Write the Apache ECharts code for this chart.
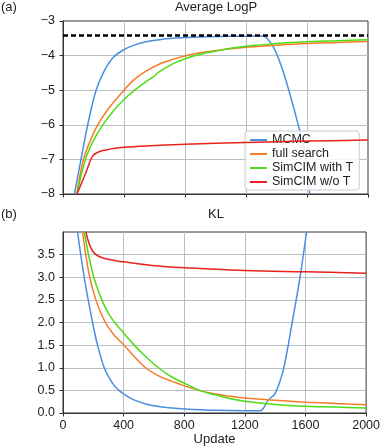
<!DOCTYPE html>
<html>
<head>
<meta charset="utf-8">
<script src="https://cdn.jsdelivr.net/npm/echarts@6/dist/echarts.min.js"></script>
<style>
  html, body { margin: 0; padding: 0; background: #fff; }
  #chart { width: 383px; height: 448px; }
</style>
</head>
<body>
<div id="chart"></div>
<script>
// series names and colours
const names = ['MCMC', 'full search', 'SimCIM with T', 'SimCIM w/o T']
const colors = ['#4a8fde', '#f77b2a', '#4ddd17', '#e8221c']

// (a) Average LogP, [update, value]
const optimum = -3.41
const mcmcLogP = [[75, -8], [118, -7], [162, -6], [217, -5], [270, -4.45], [330, -4.05], [400, -3.83], [470, -3.69], [545, -3.6], [630, -3.54], [720, -3.5], [900, -3.46], [1100, -3.44], [1300, -3.43], [1330, -3.47], [1379, -3.75], [1432, -4.31], [1486, -5.08], [1541, -5.98], [1585, -6.79], [1618, -8]]
const fullSearchLogP = [[90, -8], [134, -7], [180, -6.45], [228, -6], [300, -5.52], [400, -5], [470, -4.68], [545, -4.45], [630, -4.25], [720, -4.11], [800, -4.01], [900, -3.92], [1006, -3.85], [1100, -3.8], [1200, -3.76], [1400, -3.7], [1600, -3.65], [1800, -3.62], [2000, -3.59]]
const simcimTLogP = [[92, -8], [147, -7], [200, -6.45], [261, -6], [330, -5.6], [400, -5.27], [470, -5.0], [545, -4.75], [590, -4.62], [630, -4.47], [720, -4.24], [800, -4.09], [900, -3.96], [1006, -3.87], [1100, -3.79], [1200, -3.73], [1300, -3.69], [1400, -3.65], [1600, -3.6], [1800, -3.57], [2000, -3.54]]
const simcimNoTLogP = [[92, -8], [151, -7.37], [195, -6.9], [240, -6.77], [300, -6.71], [400, -6.65], [600, -6.6], [800, -6.56], [1200, -6.51], [1600, -6.47], [2000, -6.44]]

// (b) KL, [update, value]
const mcmcKL = [[96, 4], [140, 3], [195, 2], [228, 1.5], [272, 1], [306, 0.77], [340, 0.6], [370, 0.5], [400, 0.42], [460, 0.3], [545, 0.2], [640, 0.14], [720, 0.11], [800, 0.09], [1000, 0.06], [1200, 0.05], [1300, 0.05], [1355, 0.29], [1399, 0.43], [1454, 0.96], [1508, 1.92], [1563, 2.98], [1607, 4]]
const fullSearchKL = [[129, 4], [173, 3.05], [217, 2.5], [272, 2.05], [330, 1.75], [400, 1.51], [470, 1.25], [545, 1.0], [630, 0.82], [720, 0.7], [800, 0.6], [900, 0.5], [1006, 0.42], [1100, 0.37], [1200, 0.33], [1400, 0.28], [1600, 0.24], [1800, 0.21], [2000, 0.18]]
const simcimTKL = [[140, 4], [195, 3.1], [250, 2.55], [300, 2.2], [350, 1.96], [400, 1.77], [470, 1.5], [545, 1.25], [630, 1.0], [720, 0.79], [800, 0.66], [900, 0.5], [1006, 0.4], [1100, 0.32], [1200, 0.26], [1400, 0.19], [1600, 0.15], [1800, 0.13], [2000, 0.11]]
const simcimNoTKL = [[151, 4], [195, 3.58], [260, 3.43], [400, 3.34], [590, 3.26], [800, 3.21], [1200, 3.15], [1600, 3.12], [2000, 3.09]]

const logPData = [mcmcLogP, fullSearchLogP, simcimTLogP, simcimNoTLogP]
const klData = [mcmcKL, fullSearchKL, simcimTKL, simcimNoTKL]

const font = 'Liberation Sans'
const txt = '#222'

function xAxis (gridIndex, showLabels) {
  return {
    type: 'value',
    gridIndex: gridIndex,
    min: 0,
    max: 2000,
    interval: 400,
    axisLine: { show: true, lineStyle: { color: '#333', width: 1 } },
    axisTick: { show: true, length: 3.5, lineStyle: { color: '#333' } },
    axisLabel: { show: showLabels, color: txt, fontFamily: font, fontSize: 12.5, margin: 6, formatter: v => String(v) },
    splitLine: { show: true, showMinLine: false, showMaxLine: false, lineStyle: { color: '#b8bfc0', width: 1 } }
  }
}

function yAxis (gridIndex, min, max, interval, fmt) {
  return {
    type: 'value',
    gridIndex: gridIndex,
    min: min,
    max: max,
    interval: interval,
    axisLine: { show: true, lineStyle: { color: '#333', width: 1 } },
    axisTick: { show: true, length: 3.5, lineStyle: { color: '#333' } },
    axisLabel: { color: txt, fontFamily: font, fontSize: 12.5, margin: 8, formatter: fmt, showMaxLabel: gridIndex === 0 },
    splitLine: { show: true, showMinLine: false, showMaxLine: false, lineStyle: { color: '#b8bfc0', width: 1 } }
  }
}

const series = []
names.forEach((n, i) => {
  const s = {
    name: n,
    type: 'line',
    xAxisIndex: 0,
    yAxisIndex: 0,
    data: logPData[i],
    smooth: 0.35,
    symbol: 'none',
    color: colors[i],
    lineStyle: { width: 1.5 },
    z: 3 + i
  }
  if (i === 0) {
    s.markLine = {
      silent: true,
      symbol: 'none',
      label: { show: false },
      lineStyle: { color: '#000', type: [5, 3], width: 2.5 },
      data: [{ yAxis: optimum }]
    }
  }
  series.push(s)
  series.push({
    name: n,
    type: 'line',
    xAxisIndex: 1,
    yAxisIndex: 1,
    data: klData[i],
    smooth: 0.35,
    symbol: 'none',
    color: colors[i],
    lineStyle: { width: 1.5 },
    z: 3 + i
  })
})

const chart = echarts.init(document.getElementById('chart'), null, { renderer: 'canvas' })
chart.setOption({
  animation: false,
  backgroundColor: '#fff',
  textStyle: { fontFamily: font },
  title: [
    { text: '(a)', left: 1, top: 1, padding: 0, textStyle: { fontFamily: font, fontSize: 13, fontWeight: 'normal', color: txt } },
    { text: 'Average LogP', left: 216, top: 1, padding: 0, textAlign: 'center', textStyle: { fontFamily: font, fontSize: 13, fontWeight: 'normal', color: txt } },
    { text: '(b)', left: 1, top: 208, padding: 0, textStyle: { fontFamily: font, fontSize: 13, fontWeight: 'normal', color: txt } },
    { text: 'KL', left: 216, top: 208, padding: 0, textAlign: 'center', textStyle: { fontFamily: font, fontSize: 13, fontWeight: 'normal', color: txt } }
  ],
  legend: {
    data: names,
    orient: 'vertical',
    left: 245,
    top: 131,
    padding: [2, 6, 1, 5],
    itemGap: 0,
    itemWidth: 17,
    itemHeight: 2,
    icon: 'rect',
    backgroundColor: 'rgba(255,255,255,0.85)',
    borderColor: '#ccc',
    borderWidth: 1,
    borderRadius: 3,
    textStyle: { fontFamily: font, fontSize: 12.5, color: txt, lineHeight: 14 }
  },
  grid: [
    { left: 63, top: 21, width: 305, height: 173, show: true, borderColor: '#333', borderWidth: 1, backgroundColor: 'transparent' },
    { left: 63, top: 232, width: 305, height: 181, show: true, borderColor: '#333', borderWidth: 1, backgroundColor: 'transparent' }
  ],
  xAxis: [
    xAxis(0, false),
    Object.assign(xAxis(1, true), { name: 'Update', nameLocation: 'middle', nameGap: 16, nameTextStyle: { fontFamily: font, fontSize: 13, color: txt } })
  ],
  yAxis: [
    yAxis(0, -8, -3, 1, v => String(v).replace('-', '\u2212')),
    yAxis(1, 0, 4, 0.5, v => (v >= 4 ? '' : v.toFixed(1)))
  ],
  series: series
})
</script>
</body>
</html>
